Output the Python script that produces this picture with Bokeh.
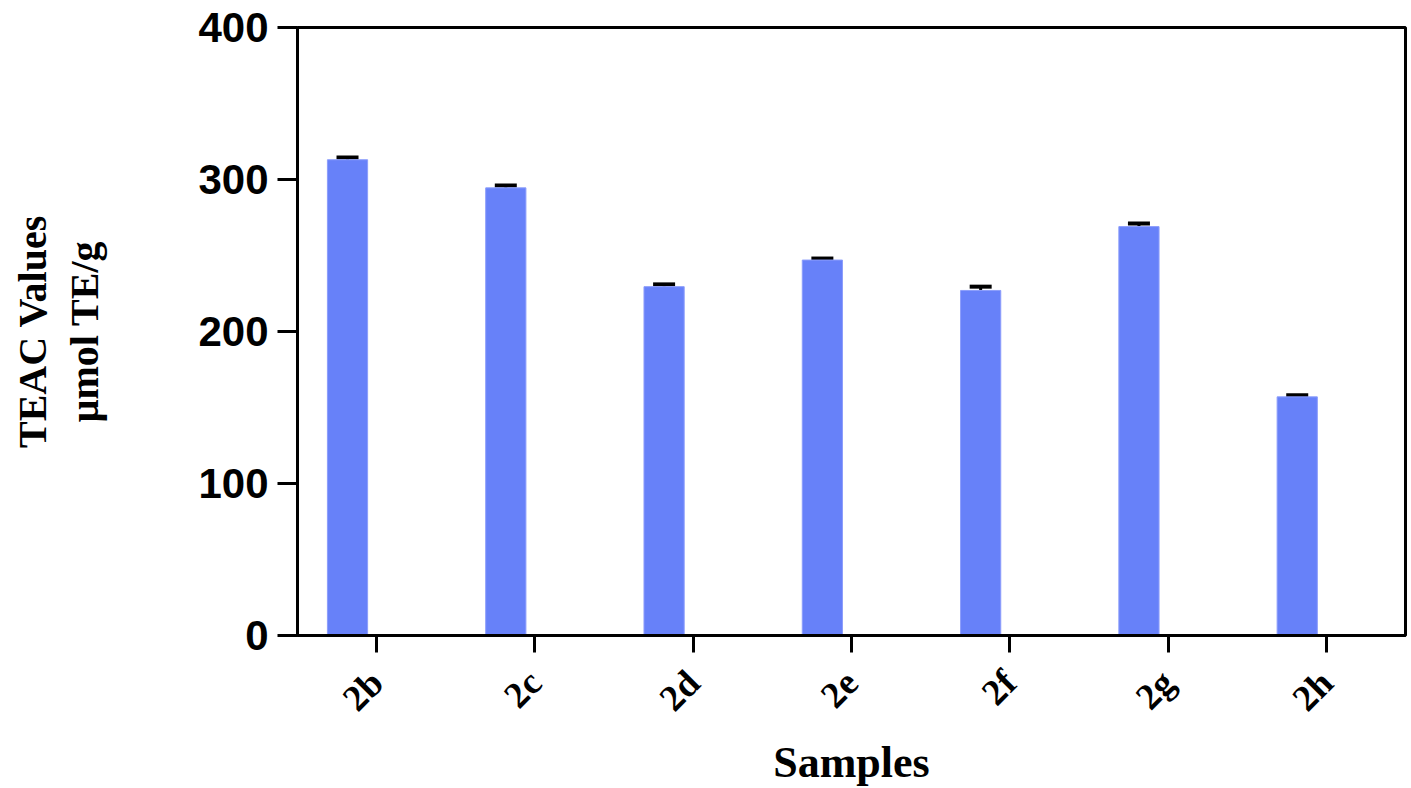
import math
from bokeh.plotting import figure
from bokeh.models import (FactorRange, Range1d, FixedTicker, ColumnDataSource,
                          Whisker, TeeHead, Title)
from bokeh.transform import dodge
from bokeh.embed import file_html
from bokeh.resources import INLINE

samples = ["2b", "2c", "2d", "2e", "2f", "2g", "2h"]
teac = [313, 294.5, 229.5, 247, 227, 269, 157]
sem = [1.5, 1.5, 1.5, 1.0, 2.5, 2.0, 1.0]
y_ticks = [0, 100, 200, 300, 400]

upper = [v + e for v, e in zip(teac, sem)]
src = ColumnDataSource(data=dict(sample=samples, teac=teac, upper=upper))

p = figure(x_range=FactorRange(factors=samples, range_padding=0),
           y_range=Range1d(0, 400),
           frame_width=1108, frame_height=608,
           min_border_left=297, min_border_right=2,
           min_border_top=27, min_border_bottom=138,
           output_backend="svg", toolbar_location=None,
           background_fill_color="white", border_fill_color="white")

BAR_OFFSET = -0.184
p.vbar(x=dodge("sample", BAR_OFFSET, range=p.x_range), top="teac", bottom=0,
       width=0.254, source=src, fill_color="#6781f9",
       line_color="#8c9dfb", line_width=1)

w = Whisker(source=src, base=dodge("sample", BAR_OFFSET, range=p.x_range),
            lower="teac", upper="upper", dimension="height",
            line_color="black", line_width=3,
            upper_head=TeeHead(size=22, line_color="black", line_width=4),
            lower_head=None)
p.add_layout(w)

p.xgrid.visible = False
p.ygrid.visible = False
p.outline_line_color = "black"
p.outline_line_width = 3
p.outline_line_alpha = 1

# y axis
ya = p.yaxis[0]
ya.ticker = FixedTicker(ticks=y_ticks)
ya.minor_tick_line_color = None
ya.major_tick_in = 0
ya.major_tick_out = 20
ya.major_tick_line_width = 3
ya.axis_line_width = 3
ya.major_label_standoff = 9
ya.major_label_text_font = "Liberation Sans"
ya.major_label_text_font_style = "bold"
ya.major_label_text_font_size = "42px"
ya.major_label_text_color = "black"
ya.axis_label = "μmol TE/g"
ya.axis_label_text_font = "Liberation Serif"
ya.axis_label_text_font_style = "bold"
ya.axis_label_text_font_size = "40px"
ya.axis_label_text_color = "black"
ya.axis_label_standoff = 88

t = Title(text="TEAC Values", align="center", text_font="Liberation Serif",
          text_font_style="bold", text_font_size="40px", text_color="black",
          standoff=10, offset=0)
p.add_layout(t, "left")

# x axis
xa = p.xaxis[0]
xa.major_tick_in = 0
xa.major_tick_out = 17
xa.major_tick_line_width = 3
xa.axis_line_width = 3
xa.major_label_orientation = math.pi / 4
xa.major_label_standoff = 24
xa.major_label_text_font = "Liberation Serif"
xa.major_label_text_font_style = "bold"
xa.major_label_text_font_size = "37px"
xa.major_label_text_color = "black"
xa.axis_label = "Samples"
xa.axis_label_text_font = "Liberation Serif"
xa.axis_label_text_font_style = "bold"
xa.axis_label_text_font_size = "44px"
xa.axis_label_text_color = "black"
xa.axis_label_standoff = 2

open("out.html", "w").write(file_html(p, INLINE))
